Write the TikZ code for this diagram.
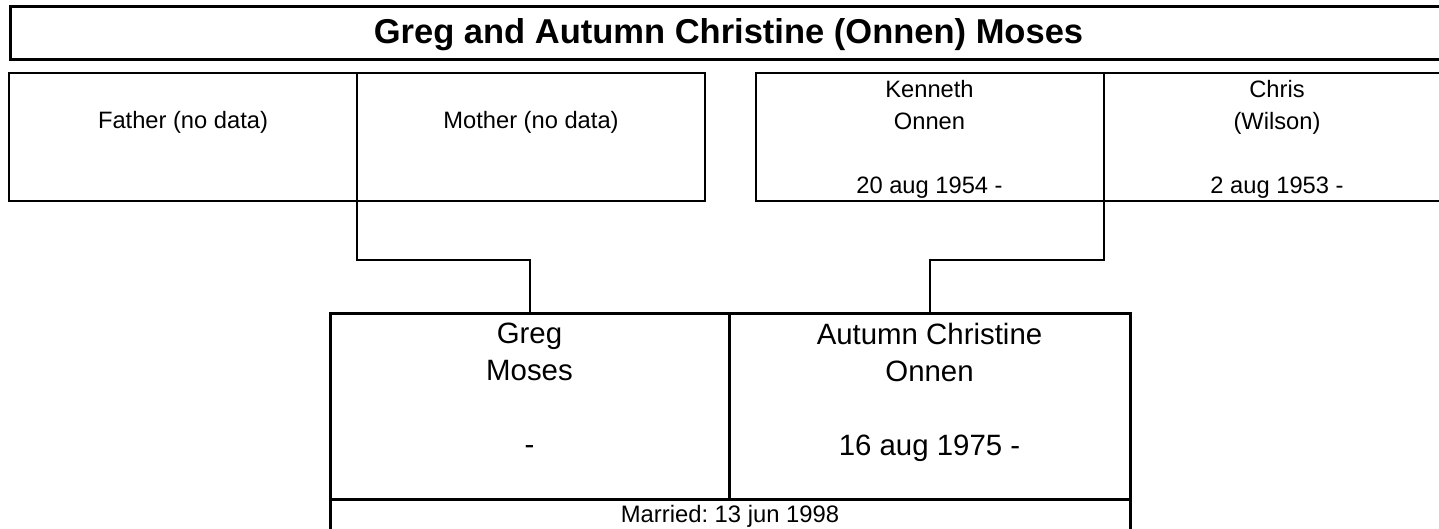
\documentclass[tikz,border=0pt]{standalone}
\usepackage{fontspec}
\setmainfont{Liberation Sans}
\usetikzlibrary{positioning}
\frenchspacing

\tikzset{
  titlebox/.style={draw,line width=1.5pt,minimum width=718.5pt,minimum height=26.75pt,inner sep=0pt,outer sep=0pt,font=\fontsize{17.25}{20}\selectfont\bfseries},
  parentbox/.style={draw,line width=1pt,minimum width=174pt,minimum height=64pt,inner sep=0pt,outer sep=0pt},
  parenttext/.style={align=center,inner sep=0pt,font=\fontsize{11.85}{16}\selectfont},
  couplebox/.style={draw,line width=1.5pt,minimum height=93pt,inner sep=0pt,outer sep=0pt},
  coupletext/.style={align=center,inner sep=0pt,text depth=0pt,font=\fontsize{14.7}{18.5}\selectfont},
  marriedbox/.style={draw,line width=1.5pt,minimum width=400pt,minimum height=16pt,inner sep=0pt,outer sep=0pt,font=\fontsize{11.9}{14}\selectfont},
  link/.style={line width=1pt}
}

\begin{document}
\begin{tikzpicture}[x=.5pt,y=-.5pt]
\useasboundingbox (0,0) rectangle (1439,529);
% title
\node[titlebox] (title) at (728.5,33.25) {};
\node[font=\fontsize{17.25}{20}\selectfont\bfseries,inner sep=0pt] (titletxt) at (728.5,34.5) {Greg and Autumn Christine (Onnen) Moses};
% parents
\node[parentbox] (father) at (183,137) {};
\node[parentbox,right=0pt of father] (mother) {};
\node[parentbox] (kenneth) at (929.5,137) {};
\node[parentbox,right=0pt of kenneth] (chris) {};
\node[parenttext] (fathertxt) at (183,122) {Father (no data)};
\node[parenttext] (mothertxt) at (531,122) {Mother (no data)};
\node[parenttext] (kennethtxt) at (929.5,139.5) {Kenneth\\Onnen\\\mbox{}\\20 aug 1954 -};
\node[parenttext] (christxt) at (1277,139.5) {Chris\\(Wilson)\\\mbox{}\\2 aug 1953 -};
% couple
\node[couplebox,minimum width=199.5pt] (greg) at (529.5,406) {};
\node[couplebox,minimum width=200.5pt,right=0pt of greg] (autumn) {};
\node[marriedbox] (married) at (730,515) {};
\node[font=\fontsize{11.9}{14}\selectfont,inner sep=0pt] (marriedtxt) at (730,516) {Married: 13 jun 1998};
\node[coupletext] (gregtxt) at (greg.center) [yshift=8.5pt] {Greg\\Moses\\\mbox{}\\-};
\node[coupletext] (autumntxt) at (autumn.center) [yshift=8.5pt] {Autumn Christine\\Onnen\\\mbox{}\\16 aug 1975 -};
% lines
\draw[link] (father.south east) -- ++(0,59) -| (greg.north);
\draw[link] (kenneth.south east) -- ++(0,59) -| (autumn.north);
\end{tikzpicture}
\end{document}
